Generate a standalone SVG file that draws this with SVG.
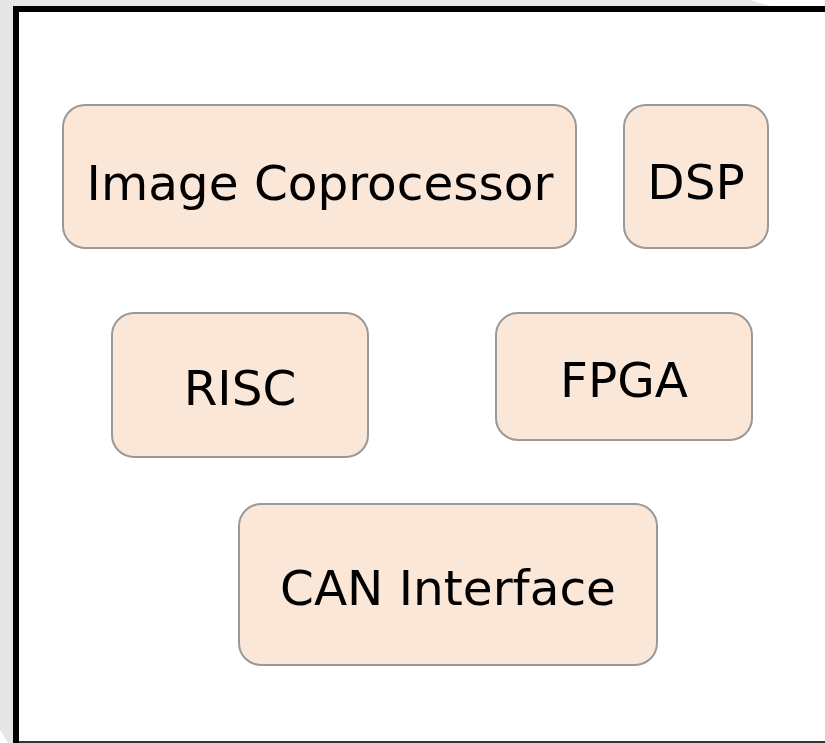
<svg xmlns="http://www.w3.org/2000/svg" width="825" height="743" viewBox="0 0 825 743">
  <style>
    .node rect { fill: #fbe7d8; stroke: #999999; stroke-width: 2; }
    .node text { font-family: "DejaVu Sans", Verdana, sans-serif; font-size: 48.5px; fill: #000000; text-anchor: middle; }
  </style>
  <!-- page background with shadow edge -->
  <rect x="0" y="0" width="825" height="743" fill="#ffffff"/>
  <polygon points="0,0 750,0 770,6 13,6 13,743 8,743 0,730" fill="#e6e6e6"/>
  <!-- page frame -->
  <g id="frame">
    <line x1="16" y1="6" x2="16" y2="743" stroke="#000000" stroke-width="6"/>
    <line x1="13" y1="9" x2="825" y2="9" stroke="#000000" stroke-width="6"/>
    <line x1="19" y1="742" x2="825" y2="742" stroke="#333333" stroke-width="2"/>
  </g>
  <g id="connectors"></g>
  <g id="image-coprocessor" class="node">
    <rect x="63" y="105" width="513" height="143" rx="22"/>
    <text x="320" y="200">Image Coprocessor</text>
  </g>
  <g id="dsp" class="node">
    <rect x="624" y="105" width="144" height="143" rx="22"/>
    <text x="696" y="199">DSP</text>
  </g>
  <g id="risc" class="node">
    <rect x="112" y="313" width="256" height="144" rx="22"/>
    <text x="240" y="405">RISC</text>
  </g>
  <g id="fpga" class="node">
    <rect x="496" y="313" width="256" height="127" rx="22"/>
    <text x="624" y="397">FPGA</text>
  </g>
  <g id="can-interface" class="node">
    <rect x="239" y="504" width="418" height="161" rx="22"/>
    <text x="448" y="605">CAN Interface</text>
  </g>
</svg>
